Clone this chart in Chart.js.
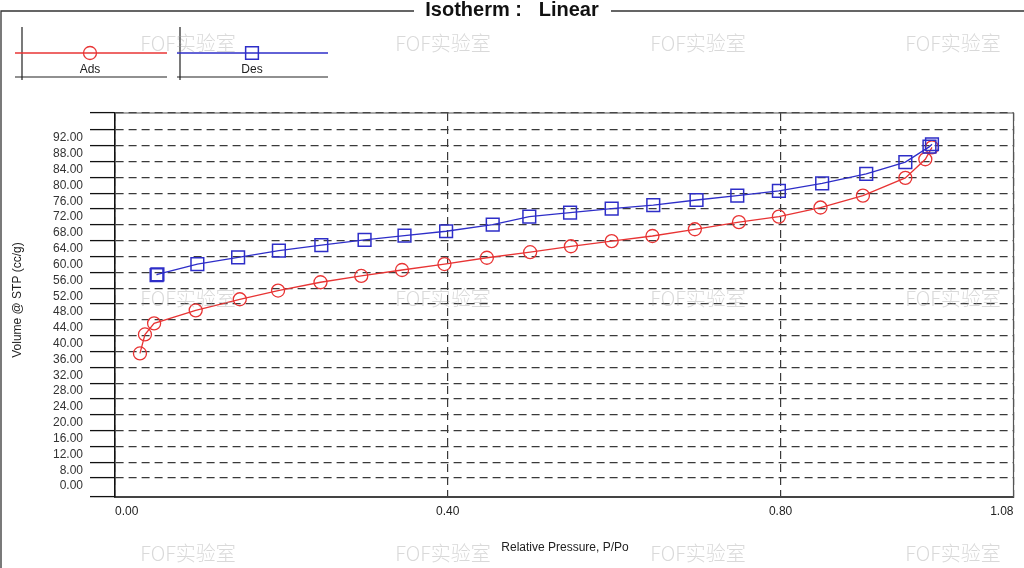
<!DOCTYPE html>
<html lang="en">
<head>
    <meta charset="UTF-8">
    <title>Isotherm : Linear</title>
    <style>
        html, body { margin: 0; padding: 0; background: #fff; }
        #wrap { width: 1024px; height: 568px; }
    </style>
</head>
<body>
    <div id="wrap"><canvas id="myChart" width="1024" height="568"></canvas></div>

    <script src="https://cdn.jsdelivr.net/npm/chart.js"></script>

    <script>
        // relative pressure / volume
        var adsP = [0.030, 0.036, 0.047, 0.097, 0.150, 0.196, 0.247, 0.296, 0.345, 0.396, 0.447, 0.499,
                    0.548, 0.597, 0.646, 0.697, 0.750, 0.798, 0.848, 0.899, 0.950, 0.974, 0.982];
        var adsV = [35.5, 40.3, 43.1, 46.4, 49.2, 51.4, 53.5, 55.1, 56.6, 58.1, 59.7, 61.1,
                    62.6, 63.9, 65.2, 66.9, 68.7, 70.1, 72.4, 75.4, 79.9, 84.6, 87.6];

        var desP = [0.982, 0.979, 0.950, 0.903, 0.850, 0.798, 0.748, 0.699, 0.647, 0.597, 0.547,
                    0.498, 0.454, 0.398, 0.348, 0.300, 0.248, 0.197, 0.148, 0.099, 0.051, 0.050];
        var desV = [88.4, 87.8, 83.9, 80.9, 78.5, 76.6, 75.4, 74.3, 73.0, 72.1, 71.1,
                    70.1, 68.1, 66.4, 65.3, 64.2, 62.9, 61.5, 59.8, 58.1, 55.5, 55.3];

        var xTicks = [0, 0.4, 0.8, 1.08];
        var xTickLabels = ['0.00', '0.40', '0.80', '1.08'];

        // gridline positions and the labels the software printed next to them
        var yTickValues = [4, 8, 12, 16, 20, 24, 28, 32, 36, 40, 44, 48, 52, 56, 60, 64, 68, 72, 76, 80, 84, 88, 92];
        var yTickLabels = ['0.00', '8.00', '12.00', '16.00', '20.00', '24.00', '28.00', '32.00', '36.00', '40.00',
                           '44.00', '48.00', '52.00', '56.00', '60.00', '64.00', '68.00', '72.00', '76.00',
                           '80.00', '84.00', '88.00', '92.00'];

        var yMin = -0.8, yMax = 96.3;
        var font = "'Liberation Sans', Arial, sans-serif";
        var red = 'rgb(232,52,52)';
        var blue = 'rgb(46,46,200)';

        function toPoints(xs, ys) {
            var pts = [];
            for (var i = 0; i < xs.length; i++) {
                pts.push({x: xs[i], y: ys[i]});
            }
            return pts;
        }

        // frame, title, legend boxes, axis titles, watermark
        var decorPlugin = {
            id: 'decor',
            beforeDraw: function(chart) {
                var ctx = chart.ctx;
                ctx.save();
                ctx.fillStyle = '#fff';
                ctx.fillRect(0, 0, chart.width, chart.height);
                ctx.restore();
            },
            afterDraw: function(chart) {
                var ctx = chart.ctx;
                var a = chart.chartArea;
                ctx.save();

                // plot box top/right
                ctx.strokeStyle = '#555';
                ctx.lineWidth = 1.2;
                ctx.beginPath();
                ctx.moveTo(a.left, a.top);
                ctx.lineTo(a.right, a.top);
                ctx.lineTo(a.right, a.bottom);
                ctx.stroke();

                // outer frame with title
                ctx.strokeStyle = '#333';
                ctx.lineWidth = 1.3;
                ctx.beginPath();
                ctx.moveTo(1, 568);
                ctx.lineTo(1, 11);
                ctx.lineTo(414, 11);
                ctx.moveTo(611, 11);
                ctx.lineTo(1024, 11);
                ctx.stroke();

                ctx.fillStyle = '#111';
                ctx.font = "bold 20px " + font;
                ctx.textAlign = 'center';
                ctx.textBaseline = 'middle';
                ctx.fillText('Isotherm :   Linear', 512, 10);

                // legend boxes
                var items = [
                    {x0: 15, x1: 167, vx: 22, cx: 90, label: 'Ads', ds: chart.data.datasets[0]},
                    {x0: 177, x1: 328, vx: 180, cx: 252, label: 'Des', ds: chart.data.datasets[1]}
                ];
                items.forEach(function(it) {
                    ctx.strokeStyle = '#222';
                    ctx.lineWidth = 1.2;
                    ctx.beginPath();
                    ctx.moveTo(it.vx, 27);
                    ctx.lineTo(it.vx, 80);
                    ctx.moveTo(it.x0, 77);
                    ctx.lineTo(it.x1, 77);
                    ctx.stroke();

                    ctx.strokeStyle = it.ds.borderColor;
                    ctx.lineWidth = 1.3;
                    ctx.beginPath();
                    ctx.moveTo(it.x0, 53);
                    ctx.lineTo(it.x1, 53);
                    ctx.stroke();

                    ctx.fillStyle = 'rgba(0,0,0,0)';
                    ctx.strokeStyle = it.ds.pointBorderColor;
                    ctx.lineWidth = it.ds.pointBorderWidth;
                    Chart.helpers.drawPoint(ctx, {
                        pointStyle: it.ds.pointStyle,
                        radius: it.ds.pointRadius,
                        borderWidth: it.ds.pointBorderWidth
                    }, it.cx, 53);

                    ctx.fillStyle = '#222';
                    ctx.font = "12px " + font;
                    ctx.fillText(it.label, it.cx, 70);
                });

                // axis titles
                ctx.fillStyle = '#222';
                ctx.font = "12px " + font;
                ctx.fillText('Relative Pressure, P/Po', 565, 548);
                ctx.save();
                ctx.translate(18, 300);
                ctx.rotate(-Math.PI / 2);
                ctx.fillText('Volume @ STP (cc/g)', 0, 0);
                ctx.restore();

                // watermark
                ctx.fillStyle = 'rgba(160,160,160,0.4)';
                ctx.font = "300 20px 'Noto Sans CJK SC', sans-serif";
                [43, 298, 553].forEach(function(y) {
                    [188, 443, 698, 953].forEach(function(x) {
                        ctx.fillText('FOF实验室', x, y);
                    });
                });

                ctx.restore();
            }
        };

        var ctx = document.getElementById('myChart');

        var myChart = new Chart(ctx, {
            type: 'line',
            data: {
                datasets: [{
                    label: 'Ads',
                    data: toPoints(adsP, adsV),
                    borderColor: red,
                    borderWidth: 1.3,
                    pointStyle: 'circle',
                    pointRadius: 6.5,
                    pointBorderWidth: 1.3,
                    pointBorderColor: red,
                    pointBackgroundColor: 'rgba(0,0,0,0)',
                    tension: 0,
                    order: 1
                }, {
                    label: 'Des',
                    data: toPoints(desP, desV),
                    borderColor: blue,
                    borderWidth: 1.3,
                    pointStyle: 'rect',
                    pointRadius: 9,
                    pointBorderWidth: 1.5,
                    pointBorderColor: blue,
                    pointBackgroundColor: 'rgba(0,0,0,0)',
                    tension: 0,
                    order: 0
                }]
            },
            options: {
                responsive: false,
                animation: false,
                devicePixelRatio: 1,
                layout: { padding: { top: 113, right: 10, left: 0, bottom: 0 } },
                plugins: {
                    legend: { display: false },
                    tooltip: { enabled: false }
                },
                scales: {
                    x: {
                        type: 'linear',
                        min: 0,
                        max: 1.08,
                        afterBuildTicks: function(scale) {
                            scale.ticks = xTicks.map(function(v) { return {value: v}; });
                        },
                        afterFit: function(scale) { scale.height = 71; },
                        ticks: {
                            align: 'inner',
                            padding: 7,
                            autoSkip: false,
                            color: '#222',
                            font: { family: font, size: 12 },
                            maxRotation: 0,
                            callback: function(value) {
                                var i = xTicks.indexOf(value);
                                return i >= 0 ? xTickLabels[i] : '';
                            }
                        },
                        grid: {
                            color: '#3a3a3a',
                            lineWidth: 1.2,
                            drawTicks: false
                        },
                        border: { color: '#444', width: 2, dash: [8, 5] }
                    },
                    y: {
                        type: 'linear',
                        min: yMin,
                        max: yMax,
                        afterBuildTicks: function(scale) {
                            var t = [{value: yMin}];
                            yTickValues.forEach(function(v) { t.push({value: v}); });
                            t.push({value: yMax});
                            scale.ticks = t;
                        },
                        afterFit: function(scale) { scale.width = 115; },
                        ticks: {
                            padding: 7,
                            labelOffset: 8,
                            autoSkip: false,
                            color: '#333',
                            font: { family: font, size: 12 },
                            callback: function(value) {
                                var i = yTickValues.indexOf(value);
                                return i >= 0 ? yTickLabels[i] : '';
                            }
                        },
                        grid: {
                            color: '#3a3a3a',
                            lineWidth: 1.2,
                            tickLength: 25,
                            tickColor: '#111',
                            tickWidth: 1.3,
                            tickBorderDash: []
                        },
                        border: { color: '#111', width: 1.6, dash: [8, 5] }
                    }
                }
            },
            plugins: [decorPlugin]
        });
    </script>
</body>
</html>
